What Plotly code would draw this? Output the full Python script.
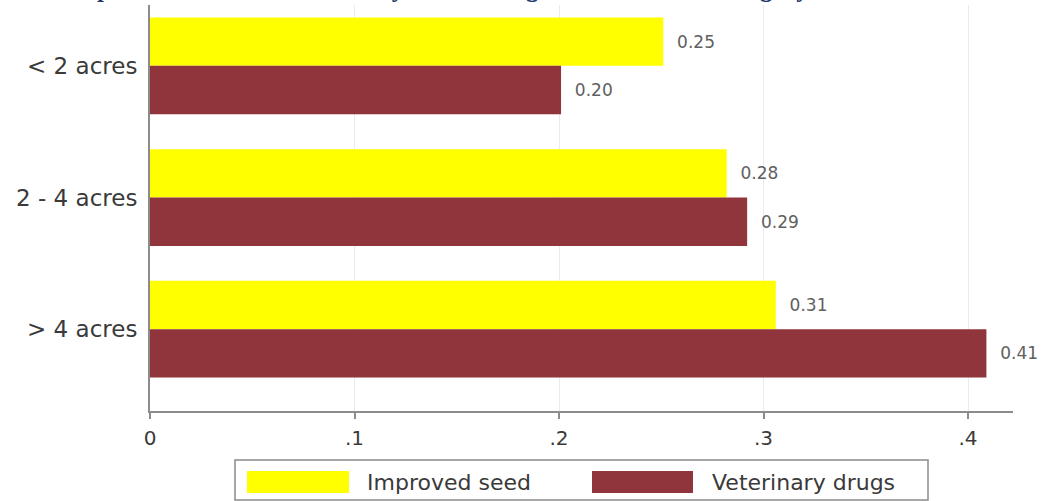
import plotly.graph_objects as go

# ---- data ----
categories = ["< 2 acres", "2 - 4 acres", "> 4 acres"]
series_names = ["Improved seed", "Veterinary drugs"]
improved_seed = [0.251, 0.282, 0.306]
veterinary_drugs = [0.201, 0.292, 0.409]
x_tickvals = [0, 0.1, 0.2, 0.3, 0.4]
x_ticktext = ["0", ".1", ".2", ".3", ".4"]
title_text = "Graph 2: Share of households by landholding size and farmer category"

# ---- style ----
YELLOW = "#FFFF00"
CRANBERRY = "#90353B"
FONT = "DejaVu Sans"
W, H = 1041, 501
PL, PR, PT, PB = 150, 1013, 5, 411


def px_x(x):
    return (x - PL) / (PR - PL)


def px_y(y):
    return (PB - y) / (PB - PT)


fig = go.Figure()
for name, vals, col in [(series_names[0], improved_seed, YELLOW),
                        (series_names[1], veterinary_drugs, CRANBERRY)]:
    fig.add_trace(go.Bar(
        y=categories, x=vals, name=name, orientation="h",
        marker=dict(color=col, line=dict(width=0)),
        text=["\u00a0\u00a0" + f"{v:.2f}" for v in vals],
        textposition="outside", cliponaxis=False, constraintext="none",
        textfont=dict(family=FONT, size=17, color="#606060"),
        showlegend=False,
    ))

shapes = [
    dict(type="rect", xref="paper", yref="paper",
         x0=px_x(235), x1=px_x(928), y0=px_y(500), y1=px_y(460),
         line=dict(color="#8a8a8a", width=1.5), fillcolor="white", layer="above"),
    dict(type="rect", xref="paper", yref="paper",
         x0=px_x(247), x1=px_x(349), y0=px_y(493), y1=px_y(471),
         line=dict(width=0), fillcolor=YELLOW, layer="above"),
    dict(type="rect", xref="paper", yref="paper",
         x0=px_x(592), x1=px_x(693), y0=px_y(493), y1=px_y(471),
         line=dict(width=0), fillcolor=CRANBERRY, layer="above"),
]

annotations = [
    dict(xref="paper", yref="paper", x=px_x(365), y=px_y(482),
         xanchor="left", yanchor="middle", showarrow=False,
         text=series_names[0], font=dict(family=FONT, size=22, color="#3a3a3a")),
    dict(xref="paper", yref="paper", x=px_x(710), y=px_y(482),
         xanchor="left", yanchor="middle", showarrow=False,
         text=series_names[1], font=dict(family=FONT, size=22, color="#3a3a3a")),
    dict(xref="paper", yref="paper", x=px_x(52), y=px_y(0),
         xanchor="left", yanchor="bottom", yshift=-4, showarrow=False,
         text="<b>" + title_text + "</b>",
         font=dict(family="Liberation Serif", size=25, color="#1F3A6B")),
]

fig.update_layout(
    width=W, height=H,
    margin=dict(l=PL, r=W - PR, t=PT, b=H - PB, pad=0),
    paper_bgcolor="white", plot_bgcolor="white",
    barmode="group", bargap=0.265, bargroupgap=0,
    shapes=shapes, annotations=annotations,
    showlegend=False,
)
fig.update_xaxes(
    range=[0, 0.422], tickvals=x_tickvals, ticktext=x_ticktext,
    showline=True, linecolor="#8c8c8c", linewidth=2,
    ticks="outside", ticklen=6, tickcolor="#8c8c8c", tickwidth=1.5,
    showgrid=True, gridcolor="#e8ecf1", gridwidth=1, zeroline=False,
    tickfont=dict(family=FONT, size=20, color="#3a3a3a"),
    ticklabelstandoff=2,
)
fig.update_yaxes(
    type="category", categoryorder="array", categoryarray=categories,
    range=[2.621, -0.462],
    showline=True, linecolor="#8c8c8c", linewidth=2,
    ticks="", showgrid=False, zeroline=False,
    tickfont=dict(family=FONT, size=23, color="#3a3a3a"),
    ticklabelstandoff=6,
)

fig.write_html("out.html")
